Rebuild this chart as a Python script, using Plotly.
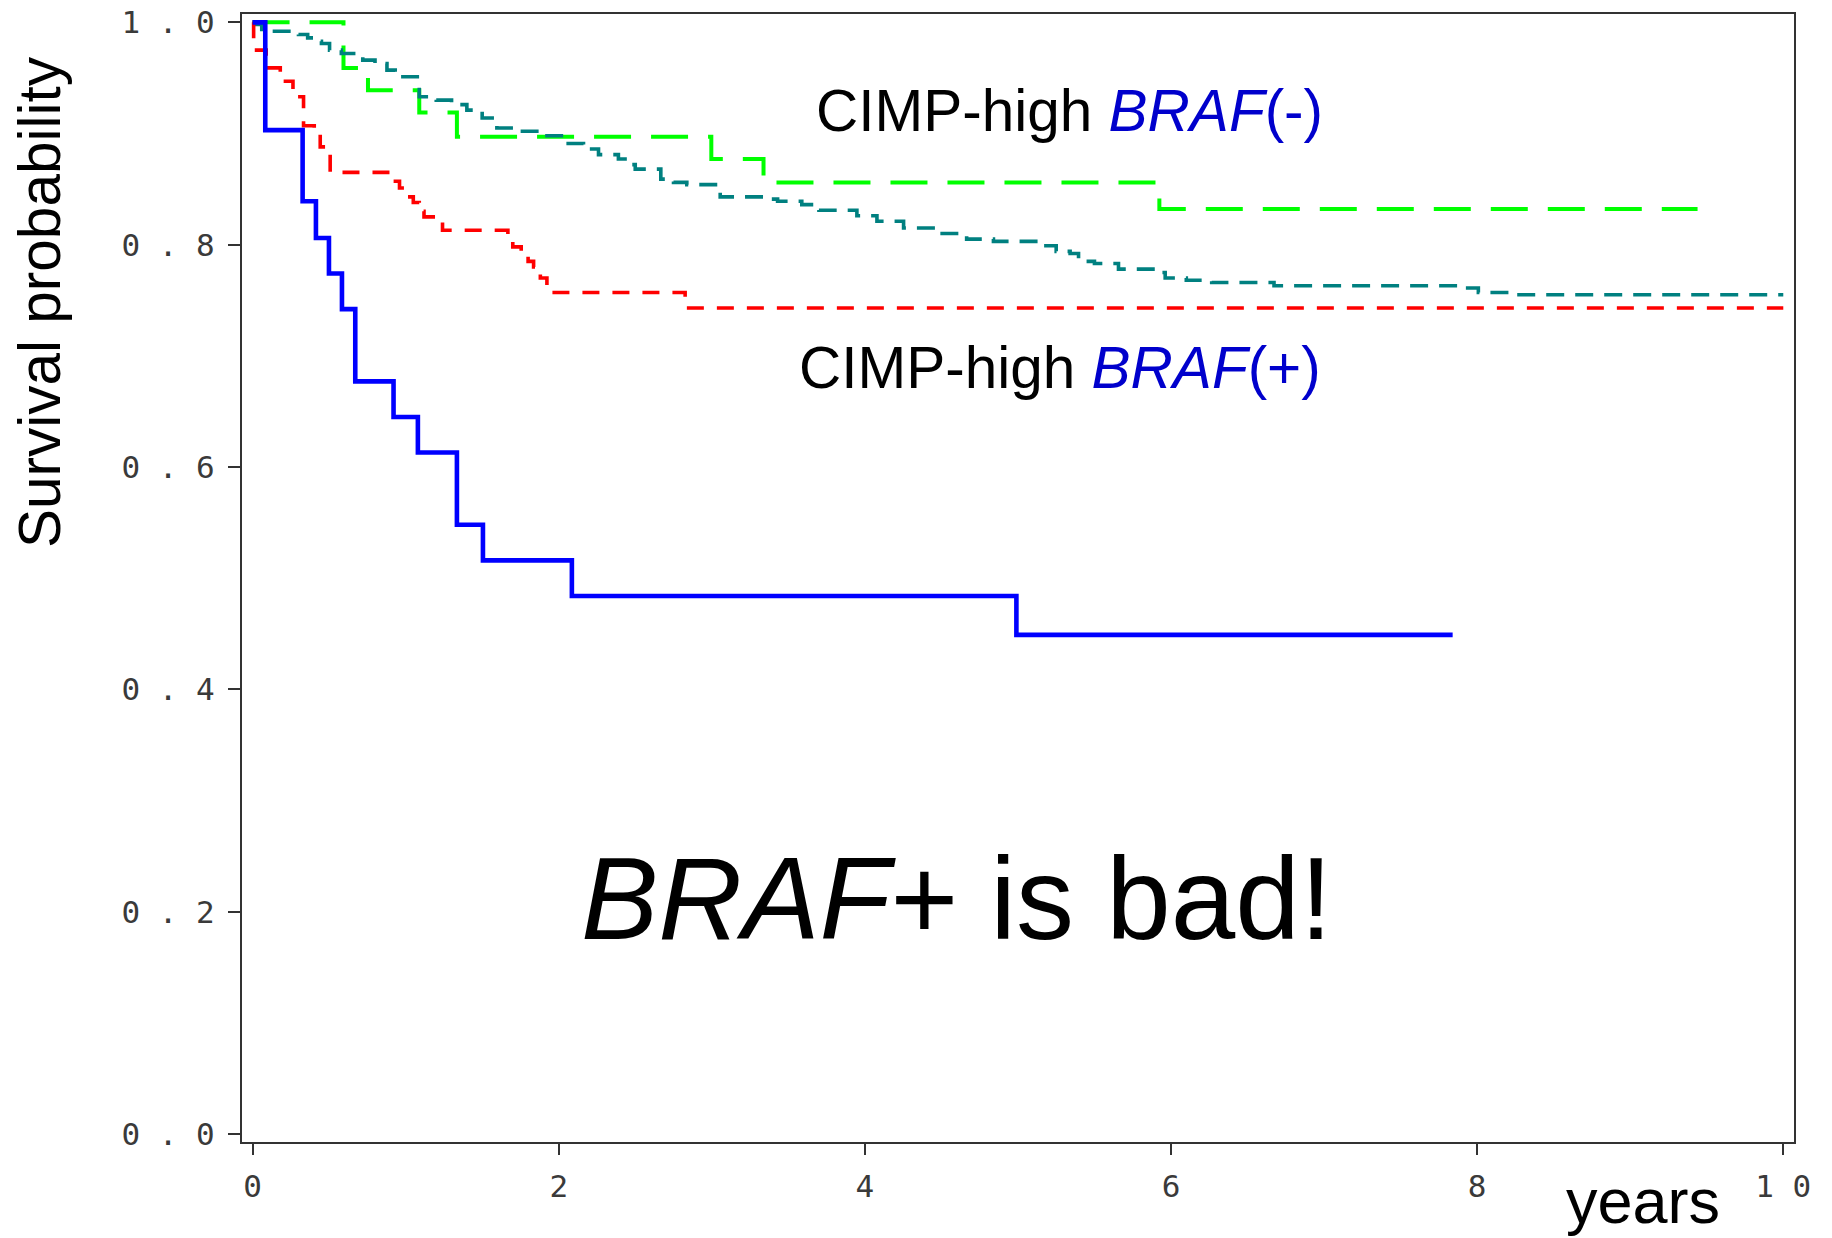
import plotly.graph_objects as go

# ---- data ----
blue_t = [0, 0.083, 0.327, 0.414, 0.499, 0.584, 0.671, 0.921, 1.080, 1.335, 1.505, 2.086, 4.99, 7.84]
blue_s = [1.0, 0.903, 0.839, 0.806, 0.774, 0.742, 0.677, 0.645, 0.613, 0.548, 0.516, 0.484, 0.449, 0.449]

red_t = [0, 0.007, 0.089, 0.181, 0.264, 0.333, 0.403, 0.442, 0.507, 0.921, 0.96, 1.002, 1.05,
         1.089, 1.12, 1.241, 1.668, 1.70, 1.755, 1.80, 1.836, 1.88, 1.923, 2.826, 10.0]
red_s = [1.0, 0.975, 0.959, 0.947, 0.933, 0.907, 0.899, 0.888, 0.865, 0.857, 0.851, 0.843, 0.838,
         0.830, 0.825, 0.813, 0.806, 0.798, 0.792, 0.785, 0.780, 0.770, 0.757, 0.743, 0.743]

green_t = [0, 0.594, 0.754, 1.089, 1.335, 2.997, 3.338, 5.924, 9.44]
green_s = [1.0, 0.959, 0.939, 0.919, 0.897, 0.877, 0.856, 0.832, 0.832]

teal_t = [0, 0.02, 0.06, 0.30, 0.36, 0.40, 0.45, 0.503, 0.58, 0.72, 0.80, 0.878, 0.932, 1.089,
          1.20, 1.30, 1.40, 1.50, 1.596, 1.73, 1.90, 2.04, 2.162, 2.26, 2.39, 2.45, 2.50, 2.667,
          2.75, 2.837, 3.055, 3.36, 3.43, 3.588, 3.70, 3.948, 4.079, 4.253, 4.49, 4.665, 4.84,
          5.166, 5.25, 5.341, 5.396, 5.50, 5.657, 5.918, 5.962, 6.10, 6.266, 6.673, 7.88, 8.008,
          8.259, 10.0]
teal_s = [1.0, 0.998, 0.992, 0.989, 0.986, 0.983, 0.981, 0.975, 0.972, 0.966, 0.963, 0.957, 0.951, 0.933,
          0.930, 0.926, 0.921, 0.914, 0.905, 0.902, 0.898, 0.891, 0.886, 0.881, 0.877, 0.872, 0.868, 0.859,
          0.856, 0.854, 0.843, 0.841, 0.839, 0.836, 0.831, 0.826, 0.821, 0.815, 0.810, 0.805, 0.803,
          0.799, 0.794, 0.792, 0.785, 0.783, 0.778, 0.775, 0.770, 0.768, 0.766, 0.763, 0.761, 0.757,
          0.755, 0.755]

x_ticks = [0, 2, 4, 6, 8, 10]
x_ticklabels = ["0", "2", "4", "6", "8", "1 0"]
y_ticks = [0.0, 0.2, 0.4, 0.6, 0.8, 1.0]
y_ticklabels = ["0 . 0", "0 . 2", "0 . 4", "0 . 6", "0 . 8", "1 . 0"]

label_neg = "CIMP-high <i>BRAF</i>(-)"
label_pos = "CIMP-high <i>BRAF</i>(+)"
headline = "<i>BRAF</i>+ is bad!"
x_title = "years"
y_title = "Survival probability"

# ---- figure ----
W, H = 1832, 1238
L, R, T, B = 242, 1794, 14, 1142

def px(xp):
    return (xp - L) / (R - L)

def py(yp):
    return (B - yp) / (B - T)

fig = go.Figure()
fig.add_trace(go.Scatter(x=green_t, y=green_s, mode="lines", line_shape="hv",
                         line=dict(color="#00FF00", width=4, dash="37px,20px")))
fig.add_trace(go.Scatter(x=teal_t, y=teal_s, mode="lines", line_shape="hv",
                         line=dict(color="#008080", width=3.6, dash="18px,11px")))
fig.add_trace(go.Scatter(x=red_t, y=red_s, mode="lines", line_shape="hv",
                         line=dict(color="#FF0000", width=3.6, dash="17px,13px")))
fig.add_trace(go.Scatter(x=blue_t, y=blue_s, mode="lines", line_shape="hv",
                         line=dict(color="#0000FF", width=4.6)))

tickfont = dict(family="DejaVu Sans Mono, Liberation Mono, monospace", size=31, color="#3a3a3a")
txtfont = "Liberation Sans, Arial, Helvetica, sans-serif"
blue_txt = "#0000CC"

fig.update_layout(
    width=W, height=H,
    margin=dict(l=L, r=W - R, t=T, b=H - B, pad=0, autoexpand=False),
    paper_bgcolor="white", plot_bgcolor="white",
    showlegend=False,
    xaxis=dict(range=[-0.069, 10.07], tickvals=x_ticks, ticktext=x_ticklabels,
               ticks="outside", ticklen=11, tickwidth=1.5, tickcolor="#333333",
               showline=True, linecolor="#333333", linewidth=2, mirror=True, automargin=False,
               showgrid=False, zeroline=False, tickfont=tickfont, ticklabelstandoff=5),
    yaxis=dict(range=[-0.0072, 1.0075], tickvals=y_ticks, ticktext=y_ticklabels,
               ticks="outside", ticklen=12, tickwidth=1.5, tickcolor="#333333",
               showline=True, linecolor="#333333", linewidth=2, mirror=True, automargin=False,
               showgrid=False, zeroline=False, tickfont=tickfont, ticklabelstandoff=7),
)

def colorize(txt):
    return txt.replace("<i>BRAF</i>(-)", f"<span style='color:{blue_txt}'><i>BRAF</i>(-)</span>") \
              .replace("<i>BRAF</i>(+)", f"<span style='color:{blue_txt}'><i>BRAF</i>(+)</span>")

annos = [
    dict(text=colorize(label_neg), x=px(815), y=py(110), xanchor="left", yanchor="middle",
         font=dict(family=txtfont, size=58.5, color="black")),
    dict(text=colorize(label_pos), x=px(798), y=py(367), xanchor="left", yanchor="middle",
         font=dict(family=txtfont, size=58.5, color="black")),
    dict(text=headline, x=px(580), y=py(899), xanchor="left", yanchor="middle",
         font=dict(family=txtfont, size=116, color="black")),
    dict(text=x_title, x=px(1643), y=py(1201), xanchor="center", yanchor="middle",
         font=dict(family=txtfont, size=63, color="black")),
    dict(text=y_title, x=px(39), y=py(302), xanchor="center", yanchor="middle", textangle=-90,
         font=dict(family=txtfont, size=58.5, color="black")),
]
for a in annos:
    fig.add_annotation(xref="paper", yref="paper", showarrow=False, borderpad=0, **a)

fig.write_html("out.html")
